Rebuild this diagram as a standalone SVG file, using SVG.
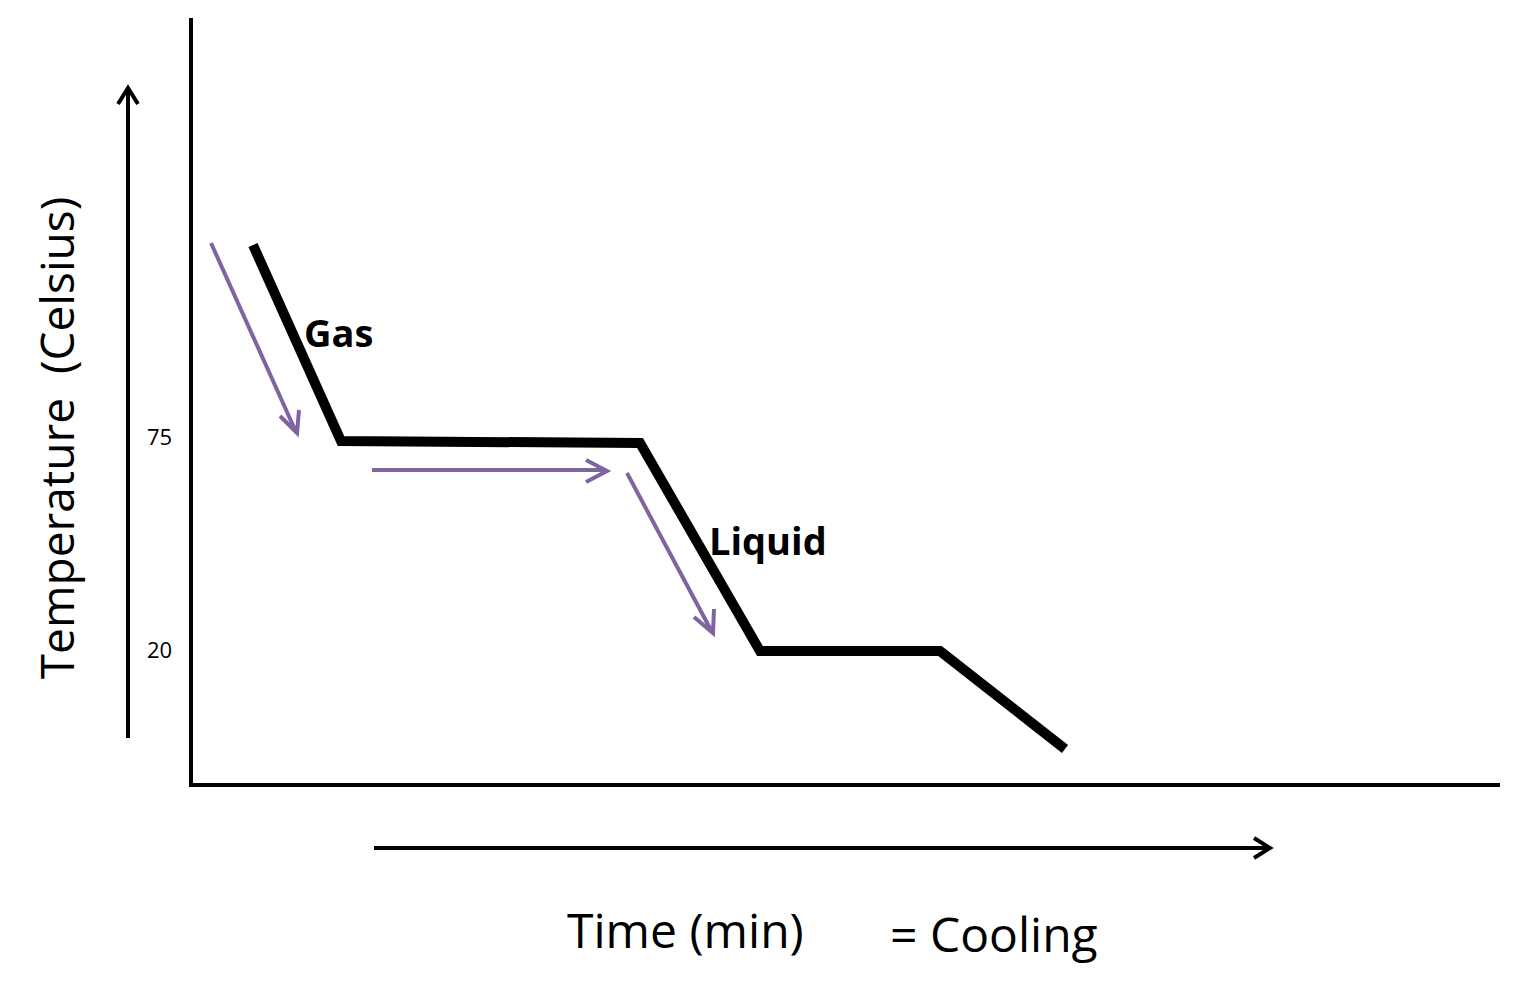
<svg xmlns="http://www.w3.org/2000/svg" width="1537" height="989" viewBox="0 0 1537 989">
<style>
.ax{stroke:#000;stroke-width:4;fill:none}
.pu{stroke:#8064A2;stroke-width:4;fill:none}
.t{font-family:"Open Sans","Liberation Sans",sans-serif;fill:#000}
</style>
<rect width="1537" height="989" fill="#fff"/>
<g id="axes">
<polyline class="ax" points="191,18 191,785 1500,785"/>
</g>
<g id="connectors">
<path class="ax" d="M128,738 V90 M118,104 L128,88 L138,104"/>
<path class="ax" d="M374,848 H1268 M1254,838 L1270,848 L1254,858"/>
<path class="pu" d="M211,243 L296,432 M280,416 L297,433 L299,410"/>
<path class="pu" d="M372,470 H605 M586,460 L607,471 L586,482"/>
<path class="pu" d="M627,473 L712,632 M694,617 L713,633 L714,609"/>
</g>
<g id="curve">
<polyline points="253,245 341,441 640,443 760,651 940,651 1065,749" fill="none" stroke="#000" stroke-width="10"/>
</g>
<g id="labels">
<text class="t" x="304" y="347" font-size="38" font-weight="bold">Gas</text>
<text class="t" x="709" y="555" font-size="38" font-weight="bold">Liquid</text>
<text class="t" x="147" y="445" font-size="22" fill="#333">75</text>
<text class="t" x="147" y="658" font-size="22" fill="#333">20</text>
<text class="t" transform="translate(74,438) rotate(-90)" text-anchor="middle" font-size="46" xml:space="preserve">Temperature  (Celsius)</text>
<text class="t" x="567" y="948" font-size="48">Time (min)</text>
<text class="t" x="890" y="952" font-size="48">= Cooling</text>
</g>
</svg>
